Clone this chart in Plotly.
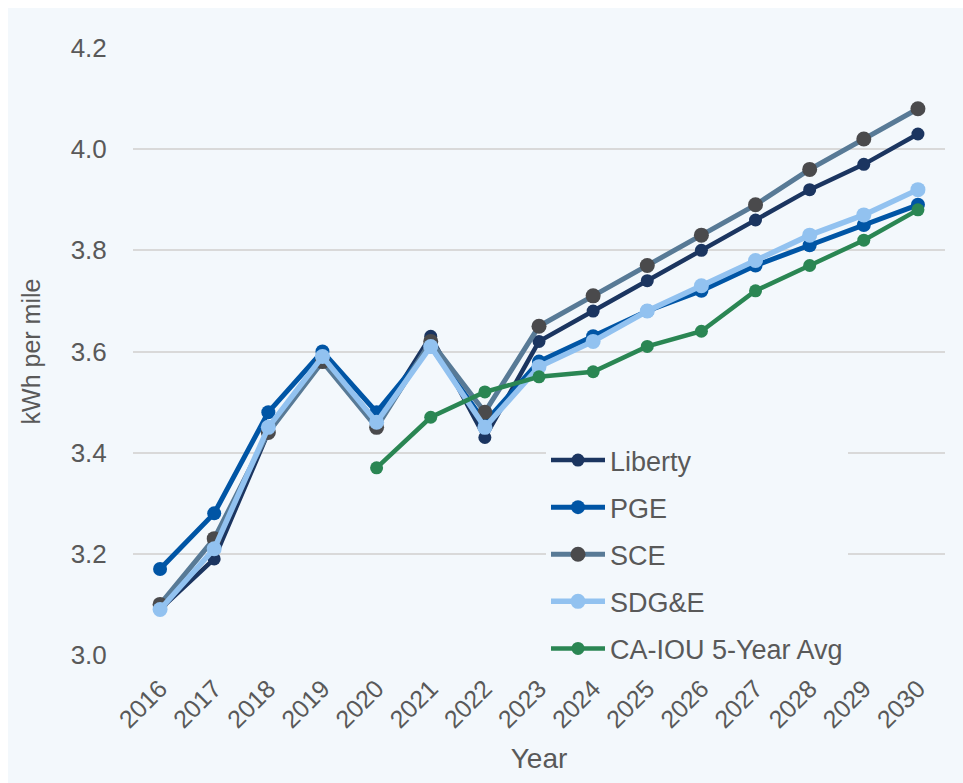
import plotly.graph_objects as go

years = list(range(2016, 2031))

liberty = [3.09, 3.19, 3.44, 3.59, 3.46, 3.63, 3.43, 3.62, 3.68, 3.74, 3.80, 3.86, 3.92, 3.97, 4.03]
pge = [3.17, 3.28, 3.48, 3.60, 3.48, 3.61, 3.46, 3.58, 3.63, 3.68, 3.72, 3.77, 3.81, 3.85, 3.89]
sce = [3.10, 3.23, 3.44, 3.58, 3.45, 3.62, 3.48, 3.65, 3.71, 3.77, 3.83, 3.89, 3.96, 4.02, 4.08]
sdge = [3.09, 3.21, 3.45, 3.59, 3.46, 3.61, 3.45, 3.57, 3.62, 3.68, 3.73, 3.78, 3.83, 3.87, 3.92]
avg_years = list(range(2020, 2031))
ca_iou_avg = [3.37, 3.47, 3.52, 3.55, 3.56, 3.61, 3.64, 3.72, 3.77, 3.82, 3.88]

BG = "#F3F8FC"
TEXT = "#595959"
FONT = "Liberation Sans, Arial, sans-serif"

series = [
    ("Liberty", years, liberty, "#1B3560", "#1B3560", 4.5, 13),
    ("PGE", years, pge, "#0055A5", "#0055A5", 5, 14),
    ("SCE", years, sce, "#587A96", "#4A4A4C", 5, 15),
    ("SDG&E", years, sdge, "#92C2F0", "#92C2F0", 5.5, 15),
    ("CA-IOU 5-Year Avg", avg_years, ca_iou_avg, "#2A8653", "#2A8653", 4.5, 13),
]

fig = go.Figure()
for name, xs, ys, lc, mc, lw, ms in series:
    fig.add_trace(go.Scatter(
        x=xs, y=ys, name=name, mode="lines+markers",
        line=dict(color=lc, width=lw),
        marker=dict(color=mc, size=ms),
        legendgroup=name,
        cliponaxis=False,
    ))

W, H = 963, 783
ML, MR, MT, MB = 133, 18, 48, 128
pw, ph = W - ML - MR, H - MT - MB

# thin white frame on the top and left edges of the light panel
fig.add_shape(type="rect", xref="paper", yref="paper",
              x0=-ML / pw, x1=(-ML + 8) / pw, y0=-MB / ph, y1=1 + MT / ph,
              fillcolor="white", line_width=0, layer="below")
fig.add_shape(type="rect", xref="paper", yref="paper",
              x0=-ML / pw, x1=1 + MR / pw, y0=1 + (MT - 8) / ph, y1=1 + MT / ph,
              fillcolor="white", line_width=0, layer="below")

fig.update_layout(
    width=W, height=H,
    margin=dict(l=ML, r=MR, t=MT, b=MB),
    paper_bgcolor=BG, plot_bgcolor=BG,
    font=dict(family=FONT, color=TEXT, size=26),
    showlegend=True,
    legend=dict(
        x=(546 - ML) / pw, y=(H - 436 - MB) / ph,
        xanchor="left", yanchor="top",
        bgcolor=BG, borderwidth=0,
        font=dict(size=27, color=TEXT, family=FONT),
        tracegroupgap=9, itemwidth=54,
    ),
    xaxis=dict(
        range=[2015.5, 2030.5], tickmode="array", tickvals=years,
        ticktext=[str(y) for y in years], tickangle=-45,
        showgrid=False, zeroline=False, showline=False,
        ticks="outside", ticklen=8, tickcolor="rgba(0,0,0,0)",
        tickfont=dict(size=25, color=TEXT),
        title=dict(text="Year", font=dict(size=28, color=TEXT), standoff=16),
    ),
    yaxis=dict(
        range=[3.0, 4.2], tickvals=[3.0, 3.2, 3.4, 3.6, 3.8, 4.0, 4.2],
        tickformat=".1f",
        showgrid=True, gridcolor="#D9D9D9", gridwidth=1.5,
        zeroline=False, showline=False,
        ticks="outside", ticklen=20, tickcolor="rgba(0,0,0,0)",
        tickfont=dict(size=26, color=TEXT),
        title=dict(text="kWh per mile", font=dict(size=25, color=TEXT), standoff=22),
    ),
)

fig.write_html("out.html")
